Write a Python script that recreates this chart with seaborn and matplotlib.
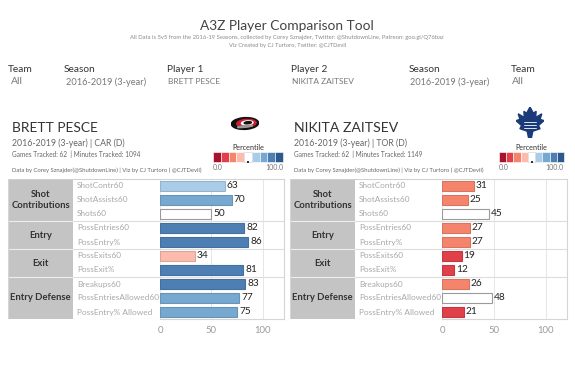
import matplotlib
matplotlib.use("Agg")
import matplotlib.pyplot as plt
import seaborn as sns
import numpy as np
from matplotlib.patches import Rectangle, Ellipse, Polygon

sns.set_theme(style="white")
plt.rcParams['font.family'] = ['Lato', 'DejaVu Sans']

# ---------------- data ----------------
categories = ["Shot\nContributions", "Entry", "Exit", "Entry Defense"]
group_sizes = [3, 2, 2, 3]
metrics = ["ShotContr60", "ShotAssists60", "Shots60", "PossEntries60", "PossEntry%",
           "PossExits60", "PossExit%", "Breakups60", "PossEntriesAllowed60", "PossEntry% Allowed"]
pesce = [63, 70, 50, 82, 86, 34, 81, 83, 77, 75]
zaitsev = [31, 25, 45, 27, 27, 19, 12, 26, 48, 21]
x_ticks = [0, 50, 100]

players = ["BRETT PESCE", "NIKITA ZAITSEV"]
seasons = ["2016-2019 (3-year) | CAR (D)", "2016-2019 (3-year) | TOR (D)"]
tracked = ["Games Tracked: 62  | Minutes Tracked: 1094", "Games Tracked: 62  | Minutes Tracked: 1149"]
credit = "Data by Corey Sznajder(@ShutdownLine) | Viz by CJ Turtoro ( @CJTDevil)"

filter_labels = ["Team", "Season", "Player 1", "Player 2", "Season", "Team"]
filter_values = ["All", "2016-2019 (3-year)", "BRETT PESCE", "NIKITA ZAITSEV", "2016-2019 (3-year)", "All"]

palette9 = ["#a8122f", "#e0404a", "#f5846c", "#fbbcae", "#ffffff",
            "#a9cce8", "#76a8d0", "#4d7fb4", "#2c5a8c"]

W, H = 575, 392
fig = plt.figure(figsize=(W / 100, H / 100), dpi=100)
fig.patch.set_facecolor("white")
renderer = fig.canvas.get_renderer()

# overlay axes in pixel coordinates for decorations
ov = fig.add_axes([0, 0, 1, 1])
ov.set_xlim(0, W)
ov.set_ylim(H, 0)
ov.axis("off")


def fx(x):
    return x / W


def fy(y):
    return 1 - y / H


def add_ax(x, y, w, h):
    return fig.add_axes([x / W, 1 - (y + h) / H, w / W, h / H])


def fit(t, target_w):
    """scale the font of text t so that its rendered width is target_w pixels"""
    fs = t.get_fontsize()
    w = t.get_window_extent(renderer).width
    if w > 0:
        t.set_fontsize(fs * target_w / w)
    return t.get_fontsize()


def pcolor(v):
    idx = min(int(v / (100 / 9)), 8)
    return palette9[idx]


def darker(c, f=0.85):
    rgb = np.array(matplotlib.colors.to_rgb(c))
    return tuple(rgb * f)


# ---------------- header ----------------
t = fig.text(fx(287), fy(26), "A3Z Player Comparison Tool", ha="center", va="center",
             fontsize=10, color="#444444")
fit(t, 174)
t = fig.text(fx(287), fy(38), "All Data is 5v5 from the 2016-19 Seasons, collected by Corey Sznajder, "
             "Twitter: @ShutdownLine, Patreon: goo.gl/Q76baz", ha="center", va="center",
             fontsize=5, color="#8a8a8a")
fit(t, 319)
t = fig.text(fx(288), fy(46), "Viz Created by CJ Turtoro, Twitter: @CJTDevil", ha="center", va="center",
             fontsize=5, color="#8a8a8a")
fit(t, 120)

fl_x = [8, 64, 167, 291, 409, 511]
fv_x = [11, 66, 168, 292, 410, 512]
fv_w = [None, 80, 52, 62, 78, None]
for lx, vx, lab, val, vw in zip(fl_x, fv_x, filter_labels, filter_values, fv_w):
    fig.text(fx(lx), fy(70), lab, ha="left", va="center", fontsize=7.3, color="#333333")
    t = fig.text(fx(vx), fy(82), val, ha="left", va="center", fontsize=7.5, color="#777777")
    if vw:
        fit(t, vw)


# ---------------- logos ----------------
def hurricanes_logo(x, y, w, h):
    ax = add_ax(x, y, w, h)
    ax.axis("off")
    ax.add_patch(Ellipse((0.5, 0.5), 0.98, 0.78, angle=12, color="#111111"))
    ax.add_patch(Ellipse((0.55, 0.52), 0.70, 0.50, angle=12, color="#cc2030"))
    ax.add_patch(Ellipse((0.58, 0.54), 0.42, 0.26, angle=12, color="#ffffff"))
    ax.add_patch(Ellipse((0.60, 0.55), 0.26, 0.14, angle=12, color="#111111"))
    ax.add_patch(Ellipse((0.50, 0.30), 0.55, 0.10, angle=12, color="#999999"))
    ax.set_xlim(0, 1)
    ax.set_ylim(0, 1)


def leafs_logo(x, y, w, h):
    ax = add_ax(x, y, w, h)
    ax.axis("off")
    pts = [(0.5, 1.0), (0.62, 0.80), (0.72, 0.86), (0.70, 0.66), (0.92, 0.78), (0.86, 0.60),
           (1.0, 0.56), (0.80, 0.40), (0.86, 0.30), (0.60, 0.22), (0.55, 0.0), (0.45, 0.0),
           (0.40, 0.22), (0.14, 0.30), (0.20, 0.40), (0.0, 0.56), (0.14, 0.60), (0.08, 0.78),
           (0.30, 0.66), (0.28, 0.86), (0.38, 0.80)]
    ax.add_patch(Polygon(pts, closed=True, color="#1b3a7a"))
    for yy in (0.52, 0.42, 0.32):
        ax.plot([0.30, 0.70], [yy, yy], color="white", lw=0.6)
    ax.set_xlim(0, 1)
    ax.set_ylim(0, 1)


hurricanes_logo(231, 116, 28, 15)
leafs_logo(516, 107, 28, 31)


# ---------------- panels ----------------
def panel(x_left, x_cat_end, x_lab_end, x_right, values, pidx, legend_x0, legend_x1, wname):
    top, height = 179, 140
    n = len(metrics)
    tx = x_left + 4

    # player header
    t = fig.text(fx(tx), fy(128), players[pidx], ha="left", va="center",
                 fontsize=12, color="#333333")
    fit(t, wname)
    t = fig.text(fx(tx), fy(143), seasons[pidx], ha="left", va="center",
                 fontsize=7.6, color="#666666")
    fit(t, 113)
    t = fig.text(fx(tx), fy(154), tracked[pidx], ha="left", va="center",
                 fontsize=5.4, color="#666666")
    fit(t, 129)
    t = fig.text(fx(tx), fy(170), credit, ha="left", va="center",
                 fontsize=4.4, color="#666666")
    fit(t, 191)

    # percentile legend (pixel coordinates on overlay)
    lx0, lx1 = legend_x0, legend_x1
    t = fig.text(fx((lx0 + lx1) / 2), fy(147), "Percentile", ha="center", va="center",
                 fontsize=6, color="#333333")
    fit(t, 32)
    bw = (lx1 - lx0) / 9
    for i, c in enumerate(palette9):
        ov.add_patch(Rectangle((lx0 + i * bw, 152), bw, 10, facecolor=c,
                               edgecolor="white", lw=0.4))
    ov.add_patch(Rectangle((lx0 + 4 * bw, 152), bw, 10, facecolor="none",
                           edgecolor="#d0d0d0", lw=0.4))
    ov.add_patch(Rectangle((lx0 + 4.5 * bw - 1, 160.5), 2, 2, facecolor="#333333",
                           edgecolor="none"))
    fig.text(fx(lx0), fy(168), "0.0", ha="left", va="center", fontsize=5, color="#777777")
    fig.text(fx(lx1), fy(168), "100.0", ha="right", va="center", fontsize=5, color="#777777")

    # table (category + metric label columns)
    tw = x_lab_end - x_left
    tab = add_ax(x_left, top, tw, height)
    tab.axis("off")
    catw = x_cat_end - x_left
    tab.add_patch(Rectangle((0, -0.5), catw, n, facecolor="#c4c4c4", edgecolor="none"))
    start = 0
    for cat, gs in zip(categories, group_sizes):
        mid = start + (gs - 1) / 2
        tab.text(catw / 2, mid, cat, ha="center", va="center", fontsize=6.8,
                 color="#333333", fontweight="bold", linespacing=1.2)
        if start > 0:
            tab.plot([0, catw], [start - 0.5, start - 0.5], color="#eeeeee", lw=0.8)
            tab.plot([catw, tw], [start - 0.5, start - 0.5], color="#dddddd", lw=0.8)
        start += gs
    mtexts = []
    for i, m in enumerate(metrics):
        mtexts.append(tab.text(catw + 4, i, m, ha="left", va="center", fontsize=6.2,
                               color="#a8a8a8"))
    tab.plot([0, tw], [-0.5, -0.5], color="#cfcfcf", lw=0.8)
    tab.plot([0, tw], [n - 0.5, n - 0.5], color="#d5d5d5", lw=0.8)
    tab.plot([0, 0], [-0.5, n - 0.5], color="#d5d5d5", lw=0.8)
    tab.plot([tw, tw], [-0.5, n - 0.5], color="#e3e3e3", lw=0.6)
    tab.set_xlim(0, tw)
    tab.set_ylim(n - 0.5, -0.5)
    fs = fit(mtexts[8], 81)
    for mt in mtexts:
        mt.set_fontsize(fs)

    # bars
    ax = add_ax(x_lab_end, top, x_right - x_lab_end, height)
    colors = [pcolor(v) for v in values]
    sns.barplot(x=values, y=metrics, hue=metrics, palette=colors, orient="h",
                legend=False, width=0.72, ax=ax, saturation=1)
    for p, c in zip(ax.patches, colors):
        ec = "#9a9a9a" if c == "#ffffff" else darker(c, 0.88)
        p.set_edgecolor(ec)
        p.set_linewidth(0.8)
    ax.set_xlim(0, 120.5)
    ax.set_ylim(n - 0.5, -0.5)
    for tk in x_ticks:
        ax.axvline(tk, color="#e6e6e6", lw=0.7, zorder=0)
    bounds = np.cumsum(group_sizes)[:-1] - 0.5
    for b in bounds:
        ax.axhline(b, color="#dddddd", lw=0.8, zorder=0)
    for i, v in enumerate(values):
        ax.text(v + 1.8, i, f"{v}", ha="left", va="center", fontsize=7.3, color="#222222")
    ax.set_xticks(x_ticks)
    ax.set_xticklabels([str(tk) for tk in x_ticks])
    ax.set_yticks([])
    ax.set_xlabel("")
    ax.set_ylabel("")
    ax.tick_params(axis="x", length=0, pad=5, labelsize=6.8, labelcolor="#9a9a9a")
    for s in ax.spines.values():
        s.set_color("#d5d5d5")
        s.set_linewidth(0.8)
    ax.spines["left"].set_visible(False)


panel(8, 73, 160, 284, pesce, 0, 213, 283, 86)
panel(290, 355, 442, 567, zaitsev, 1, 499, 564, 104)

fig.savefig("out.png", dpi=100, facecolor="white")
